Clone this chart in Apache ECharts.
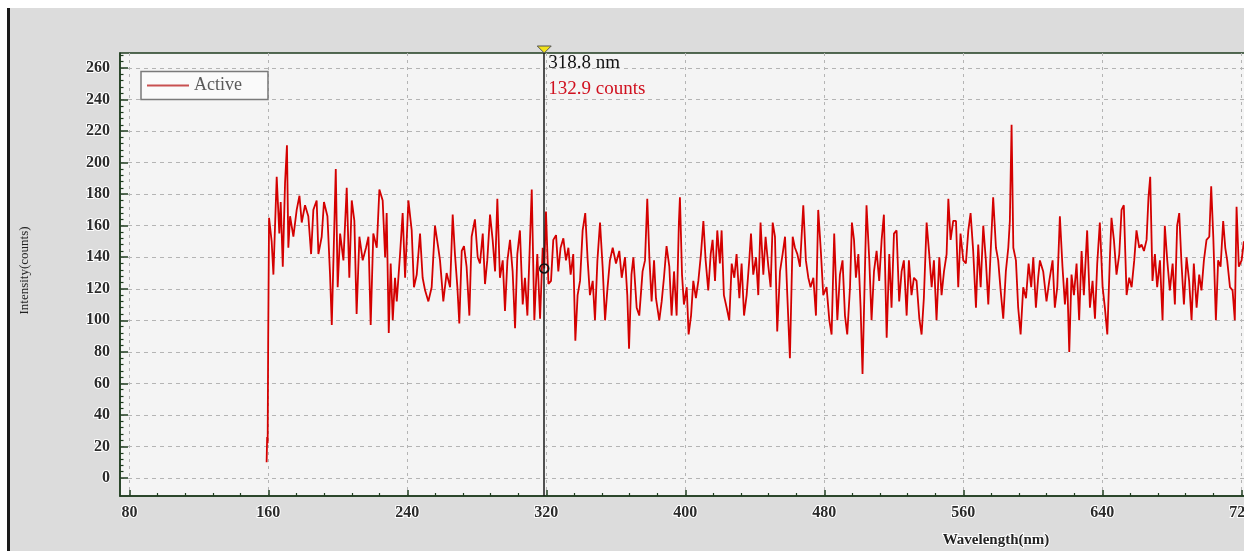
<!DOCTYPE html>
<html>
<head>
<meta charset="utf-8">
<script src="https://cdn.jsdelivr.net/npm/echarts@6/dist/echarts.min.js"></script>
<style>
html,body{margin:0;padding:0;background:#ffffff;}
#c{width:1244px;height:551px;}
</style>
</head>
<body>
<div id="c"></div>
<script>
// ---- data ----
const seriesName = 'Active';
const wavelengths = [
159.0,159.3,159.6,159.9,160.4,161.9,162.9,164.8,166.3,167.1,
168.3,169.6,170.7,171.5,172.5,174.4,176.3,177.9,179.2,181.1,
183.0,184.6,185.9,187.8,188.8,190.7,192.0,194.0,195.5,196.5,
198.8,199.9,201.3,203.2,205.1,206.6,208.0,209.5,210.8,212.4,
214.3,216.2,217.6,218.9,220.4,222.4,223.9,225.8,227.2,228.1,
229.3,230.4,231.6,232.9,233.9,235.8,237.3,238.7,240.6,242.5,
243.8,245.4,247.3,248.8,250.2,252.1,254.0,255.9,257.8,
258.8,260.7,262.6,264.6,266.1,267.4,268.8,269.9,271.3,272.6,
274.1,275.7,277.0,278.9,280.5,281.8,283.4,284.7,286.0,287.6,
289.1,290.5,291.8,293.3,294.9,296.2,297.6,299.1,300.6,302.0,
303.3,304.8,306.4,307.7,309.1,310.2,311.6,313.1,314.8,316.4,
317.9,318.8,319.8,321.2,322.7,324.0,325.6,326.9,328.2,329.8,
331.3,332.7,334.0,335.5,336.7,338.0,339.4,340.9,342.4,343.8,
345.1,346.7,348.0,349.4,350.9,352.4,353.8,355.1,356.6,358.2,
360.1,362.0,363.4,365.3,366.6,367.6,369.0,370.1,372.0,373.5,
375.4,376.8,378.1,379.3,380.6,382.0,383.1,385.0,386.4,387.7,
389.2,390.8,392.1,393.5,395.0,396.3,396.9,398.1,399.2,400.8,
401.9,403.3,404.6,406.1,407.5,409.0,410.4,411.7,413.2,414.6,
415.7,417.1,418.4,419.9,420.9,422.2,423.8,425.3,426.7,428.2,
429.5,431.1,432.4,433.8,435.3,436.8,437.8,439.1,440.7,442.0,
443.3,444.9,446.2,447.8,449.1,450.3,451.6,452.9,454.5,456.0,
457.4,458.7,460.2,461.8,463.1,464.5,466.0,467.9,469.4,470.8,
472.1,473.7,475.2,476.5,477.9,479.4,481.3,482.9,484.2,485.7,487.5,
489.0,490.5,491.9,493.2,494.8,495.9,497.1,498.2,499.6,500.9,
502.0,503.6,504.3,505.9,507.2,508.6,510.1,511.6,513.0,514.3,
515.9,517.4,518.7,520.1,521.6,523.1,524.5,525.8,527.4,528.7,
530.2,531.6,533.1,534.7,536.0,537.3,538.9,540.4,541.8,543.1,
544.6,546.2,547.5,548.9,550.4,551.4,552.7,554.2,555.8,557.1,
558.4,560.0,561.5,562.9,564.2,565.7,567.3,568.6,570.0,571.5,
573.0,574.4,575.7,577.2,578.8,580.1,581.5,583.0,584.5,585.9,
586.8,587.8,588.8,590.3,591.6,593.0,594.5,596.1,597.6,599.1,
600.3,601.8,603.1,
604.1,606.0,607.9,609.5,611.4,612.7,614.1,615.6,617.1,618.5,
619.8,621.0,622.3,623.7,625.2,626.7,628.1,629.4,631.3,632.9,
634.4,635.8,637.1,638.6,640.2,641.5,642.9,644.4,645.3,646.7,
648.2,649.8,651.1,652.4,654.0,655.5,656.9,658.4,659.7,661.3,
662.6,664.0,665.5,666.6,667.6,668.9,670.3,671.6,673.2,674.7,
676.0,677.4,678.9,680.5,681.8,683.1,684.3,685.6,687.0,688.5,
690.0,691.4,692.7,694.3,695.8,697.1,698.5,700.0,701.6,702.7,
703.9,705.4,706.7,708.1,709.6,710.8,711.9,713.5,715.0,716.3,
717.3,718.6,720.2,721.5,722.8,724.0,725.5,727.0,728.5,730.0,
731.5,733.0,734.5,736.0,738.0,740.0
];
const intensities = [
10,26,22,88,165,150,129,191,155,175,
134,187,211,146,166,153,170,179,162,173,
166,142,170,176,142,153,175,166,129,97,
196,121,155,138,184,127,176,163,104,153,
138,146,153,97,155,146,183,176,140,168,
92,136,100,127,112,142,168,127,176,157,
121,129,155,127,119,112,121,160,146,
138,112,130,121,167,142,121,98,144,147,
134,103,153,164,140,136,155,123,138,167,
151,131,177,127,138,106,138,151,131,95,
142,157,110,127,103,138,183,100,142,101,
146,132.9,169,123,125,151,154,131,146,152,
138,146,129,142,87,116,125,157,168,138,
116,125,100,138,162,134,100,119,138,146,
136,144,127,140,116,82,129,140,108,103,
131,138,177,140,112,138,114,100,112,127,
147,134,103,131,103,162,178,129,110,121,
91,103,125,114,125,142,163,138,119,142,
151,125,157,136,157,116,108,100,136,127,
142,114,136,103,116,138,155,129,140,116,
162,129,153,134,121,162,153,93,131,142,
153,116,76,153,146,142,134,173,138,127,
121,127,103,170,146,116,121,100,91,155,100,
129,138,103,91,121,162,151,127,142,108,
66,142,173,138,100,131,144,125,151,167,
89,142,108,155,157,112,131,138,103,138,
116,127,125,101,91,114,162,142,121,138,
100,140,116,131,142,177,151,163,163,121,
155,138,136,157,168,144,108,148,121,160,
138,110,142,178,146,138,119,101,131,146,
163,224,146,138,108,91,121,114,136,121,
140,108,127,
138,131,112,125,138,108,121,166,134,110,
127,80,129,116,136,100,144,116,157,108,
125,101,136,162,121,108,91,140,165,151,
129,142,170,173,116,127,121,138,157,146,
148,144,151,178,191,125,142,121,138,100,
160,138,119,136,110,160,168,136,110,140,
125,100,136,108,129,119,138,151,153,185,
153,100,138,134,163,146,138,121,119,100,
172,134,138,150,140,125,150,130,142,120,
145,135,128,140,132,138
];
const xTickValues = [80,160,240,320,400,480,560,640,720];
const yTickValues = [0,20,40,60,80,100,120,140,160,180,200,220,240,260];
const cursorWavelength = 318.8;
const cursorIntensity = 132.9;
const xAxisTitle = 'Wavelength(nm)';
const yAxisTitle = 'Intensity(counts)';

// ---- axis extents (visible window of the reference) ----
const X_MIN = 74.6, X_MAX = 740;
const Y_MIN = -11.4, Y_MAX = 269.5;

// minor ticks: 4 between each pair of major ticks
function minors(majors, parts, lo, hi) {
  const out = [];
  const gap = majors[1] - majors[0];
  const step = gap / parts;
  for (let k = -parts; k <= (majors.length) * parts; k++) {
    if (k % parts === 0) continue;
    const r = Math.round((majors[0] + k * step) * 1000) / 1000;
    if (r > lo && r < hi) out.push(r);
  }
  return out;
}
const xMinor = minors(xTickValues, 5, X_MIN, X_MAX);
const yMinor = minors(yTickValues, 5, 0, Y_MAX);

const data = wavelengths.map((w, i) => [w, intensities[i]]);

const AXIS_COLOR = '#1f3d1f';
const labelFont = {
  fontFamily: 'Liberation Serif', fontWeight: 'bold', fontSize: 16,
  color: '#2b2b2b', textBorderColor: '#ffffff', textBorderWidth: 2
};

const chart = echarts.init(document.getElementById('c'), null, { renderer: 'canvas' });

const option = {
  backgroundColor: '#dcdcdc',
  animation: false,
  grid: {
    left: 120, top: 53, right: -32, bottom: 55,
    show: true, backgroundColor: '#f4f4f4',
    borderColor: AXIS_COLOR, borderWidth: 1.5,
    containLabel: false, outerBoundsMode: 'none'
  },
  legend: {
    show: true, left: 141, top: 71.5, orient: 'horizontal',
    padding: [5, 26, 5, 6],
    itemWidth: 42, itemHeight: 2,
    backgroundColor: '#fafafa', borderColor: '#7a7a7a', borderWidth: 1.5, borderRadius: 0,
    textStyle: { fontFamily: 'Liberation Serif', fontSize: 18, color: '#5a5a5a' },
    itemStyle: { color: '#c85050' },
    data: [{ name: seriesName, icon: 'rect' }],
    selectedMode: false
  },
  xAxis: [
    {
      type: 'value', min: X_MIN, max: X_MAX, position: 'bottom',
      axisLine: { show: true, onZero: false, lineStyle: { color: AXIS_COLOR, width: 1.5 } },
      axisTick: { show: true, inside: true, length: 6, customValues: xTickValues, lineStyle: { color: AXIS_COLOR, width: 1.5 } },
      axisLabel: Object.assign({ customValues: xTickValues, margin: 9 }, labelFont),
      splitLine: { show: true, lineStyle: { color: '#b4b4b4', width: 1, type: [3, 4] } }
    },
    {
      type: 'value', min: X_MIN, max: X_MAX, position: 'bottom',
      axisLine: { show: false, onZero: false }, axisLabel: { show: false }, splitLine: { show: false },
      axisTick: { show: true, inside: true, length: 3, customValues: xMinor, lineStyle: { color: AXIS_COLOR, width: 1.2 } }
    }
  ],
  yAxis: [
    {
      type: 'value', min: Y_MIN, max: Y_MAX, position: 'left',
      name: yAxisTitle, nameLocation: 'middle', nameGap: 89, nameRotate: 90,
      nameTextStyle: { fontFamily: 'Liberation Serif', fontSize: 13, color: '#222222', padding: [0, 0, 0, 8] },
      axisLine: { show: true, onZero: false, lineStyle: { color: AXIS_COLOR, width: 1.5 } },
      axisTick: { show: true, inside: true, length: 8, customValues: yTickValues, lineStyle: { color: AXIS_COLOR, width: 1.5 } },
      axisLabel: Object.assign({ customValues: yTickValues, margin: 10 }, labelFont),
      splitLine: { show: true, lineStyle: { color: '#b4b4b4', width: 1, type: [4, 4] } }
    },
    {
      type: 'value', min: Y_MIN, max: Y_MAX, position: 'left',
      axisLine: { show: false, onZero: false }, axisLabel: { show: false }, splitLine: { show: false },
      axisTick: { show: true, inside: true, length: 3.5, customValues: yMinor, lineStyle: { color: AXIS_COLOR, width: 1.2 } }
    }
  ],
  series: [
    {
      name: seriesName, type: 'line', xAxisIndex: 0, yAxisIndex: 0,
      data: data, showSymbol: false, symbol: 'none', sampling: null,
      lineStyle: { color: '#d40000', width: 1.8 },
      itemStyle: { color: '#d40000' },
      markLine: {
        silent: true, symbol: ['none', 'none'], animation: false,
        label: { show: false },
        lineStyle: { color: '#1a1a1a', type: 'solid', width: 1.5 },
        data: [{ xAxis: cursorWavelength }]
      },
      markPoint: {
        silent: true, symbol: 'circle', symbolSize: 9, animation: false,
        itemStyle: { color: 'rgba(0,0,0,0)', borderColor: '#111111', borderWidth: 1.5 },
        label: { show: false },
        data: [{ coord: [cursorWavelength, cursorIntensity] }]
      }
    }
  ]
};
chart.setOption(option);

const cx = chart.convertToPixel({ xAxisIndex: 0 }, cursorWavelength);
const topY = chart.convertToPixel({ yAxisIndex: 0 }, Y_MAX);
const botY = chart.convertToPixel({ yAxisIndex: 0 }, Y_MIN);

chart.setOption({
  graphic: [
    { type: 'rect', z: 1, silent: true, shape: { x: 0, y: 0, width: 1244, height: 8 }, style: { fill: '#ffffff' } },
    { type: 'rect', z: 1, silent: true, shape: { x: 0, y: 0, width: 7, height: 551 }, style: { fill: '#ffffff' } },
    { type: 'rect', z: 1, silent: true, shape: { x: 7, y: 8, width: 3, height: 543 }, style: { fill: '#1a1a1a' } },
    { type: 'polygon', z: 10, silent: true,
      shape: { points: [[cx - 7, topY - 7], [cx + 7, topY - 7], [cx, topY]] },
      style: { fill: '#f2e21a', stroke: '#555555', lineWidth: 1 } },
    { type: 'text', z: 10, silent: true,
      style: { text: cursorWavelength + ' nm', x: cx + 4, y: topY + 10, align: 'left', verticalAlign: 'middle',
               font: '19px "Liberation Serif"', fill: '#111111' } },
    { type: 'text', z: 10, silent: true,
      style: { text: cursorIntensity + ' counts', x: cx + 4, y: topY + 36, align: 'left', verticalAlign: 'middle',
               font: '19px "Liberation Serif"', fill: '#d0101e' } },
    { type: 'text', z: 10, silent: true,
      style: { text: xAxisTitle, x: 996, y: botY + 44, align: 'center', verticalAlign: 'middle',
               font: 'bold 15px "Liberation Serif"', fill: '#222222', stroke: '#ffffff', lineWidth: 2 } }
  ]
});
</script>
</body>
</html>
